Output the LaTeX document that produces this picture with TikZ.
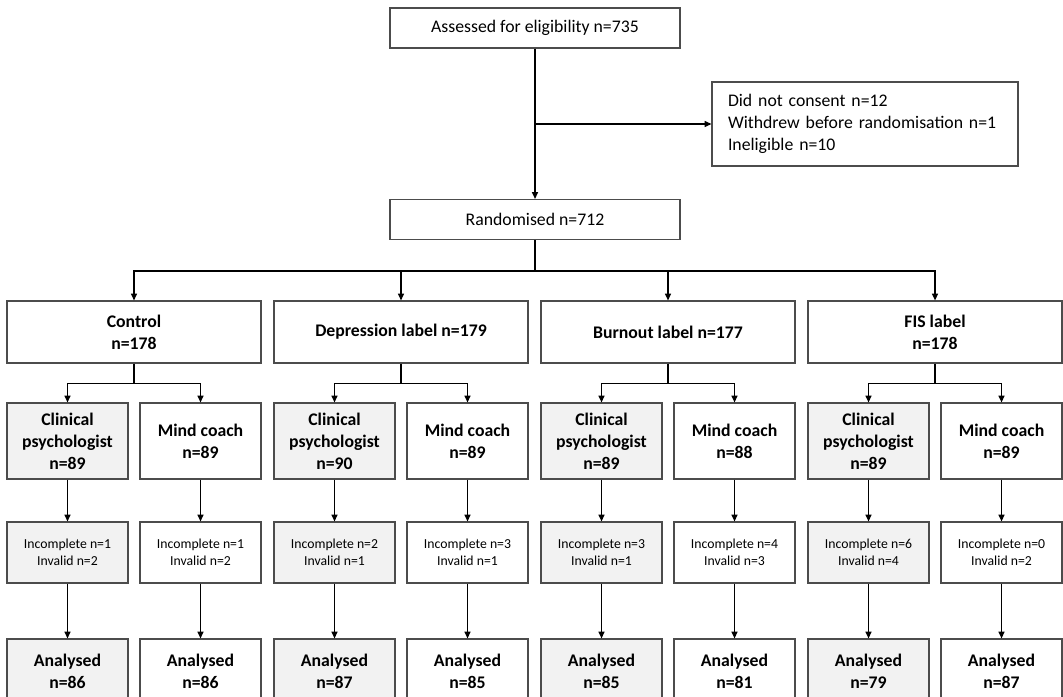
\documentclass[tikz,border=0pt]{standalone}
\usepackage{fontspec}
\setmainfont{Carlito}
\usetikzlibrary{arrows.meta}

\begin{document}
\begin{tikzpicture}
[x=0.75pt,y=-0.75pt,
box/.style={draw=black!70,line width=0.9pt,fill=white,align=center,inner sep=2pt,font=\fontsize{13.3}{16.5}\selectfont},
grp/.style={box,font=\fontsize{13.3}{16.5}\selectfont\bfseries,minimum width=190.5pt,minimum height=46.5pt},
sub/.style={box,font=\fontsize{13.3}{16.5}\selectfont\bfseries,minimum width=90.75pt,minimum height=57pt},
drop/.style={box,font=\fontsize{10.3}{12.5}\selectfont,minimum width=90.75pt,minimum height=45.75pt},
ana/.style={box,font=\fontsize{13.3}{16.5}\selectfont\bfseries,minimum width=90.75pt,minimum height=48pt},
grey/.style={fill=black!5},
arr/.style={draw=black,line width=1pt,-{Triangle[length=5pt,width=4.5pt]}},
ln/.style={draw=black,line width=1pt}]
\useasboundingbox (0,0) rectangle (1063,696);
\clip (0,0) rectangle (1063,696);

% enrolment
\node[box,minimum width=217.5pt,minimum height=30pt] (as) at (535,28) {Assessed for eligibility n=735};
\node[box,align=left,text width=205.5pt,inner xsep=12pt,minimum height=63pt] (excl) at (865,124) {Did not consent n=12\\Withdrew before randomisation n=1\\Ineligible n=10};
\node[box,minimum width=217.5pt,minimum height=30pt] (rnd) at (535,219.5) {Randomised n=712};

% groups
\node[grp] (g1) at (134,332) {Control\\n=178};
\node[grp] (g2) at (401,332) {Depression label n=179};
\node[grp] (g3) at (668,332) {Burnout label n=177};
\node[grp] (g4) at (935,332) {FIS label\\n=178};

% clinical psychologist / mind coach
\node[sub,grey] (g1c) at (67.5,441) {Clinical\\psychologist\\n=89};
\node[sub] (g1m) at (200.5,441) {Mind coach\\n=89};
\node[sub,grey] (g2c) at (334.5,441) {Clinical\\psychologist\\n=90};
\node[sub] (g2m) at (467.5,441) {Mind coach\\n=89};
\node[sub,grey] (g3c) at (601.5,441) {Clinical\\psychologist\\n=89};
\node[sub] (g3m) at (734.5,441) {Mind coach\\n=88};
\node[sub,grey] (g4c) at (868.5,441) {Clinical\\psychologist\\n=89};
\node[sub] (g4m) at (1001.5,441) {Mind coach\\n=89};

% incomplete / invalid
\node[drop,grey] (g1ci) at (67.5,552.5) {Incomplete n=1\\Invalid n=2};
\node[drop] (g1mi) at (200.5,552.5) {Incomplete n=1\\Invalid n=2};
\node[drop,grey] (g2ci) at (334.5,552.5) {Incomplete n=2\\Invalid n=1};
\node[drop] (g2mi) at (467.5,552.5) {Incomplete n=3\\Invalid n=1};
\node[drop,grey] (g3ci) at (601.5,552.5) {Incomplete n=3\\Invalid n=1};
\node[drop] (g3mi) at (734.5,552.5) {Incomplete n=4\\Invalid n=3};
\node[drop,grey] (g4ci) at (868.5,552.5) {Incomplete n=6\\Invalid n=4};
\node[drop] (g4mi) at (1001.5,552.5) {Incomplete n=0\\Invalid n=2};

% analysed
\node[ana,grey] (g1ca) at (67.5,671) {Analysed\\n=86};
\node[ana] (g1ma) at (200.5,671) {Analysed\\n=86};
\node[ana,grey] (g2ca) at (334.5,671) {Analysed\\n=87};
\node[ana] (g2ma) at (467.5,671) {Analysed\\n=85};
\node[ana,grey] (g3ca) at (601.5,671) {Analysed\\n=85};
\node[ana] (g3ma) at (734.5,671) {Analysed\\n=81};
\node[ana,grey] (g4ca) at (868.5,671) {Analysed\\n=79};
\node[ana] (g4ma) at (1001.5,671) {Analysed\\n=87};

% connectors
\draw[arr] (as) -- (rnd);
\draw[arr] (as.south |- excl.west) -- (excl.west);
\draw[ln] (rnd.south) -- ++(0,31) coordinate (rb);
\draw[arr] (rb) -| (g1.north);
\draw[arr] (rb) -| (g2.north);
\draw[arr] (rb) -| (g3.north);
\draw[arr] (rb) -| (g4.north);

\draw[ln] (g1.south) -- ++(0,20) coordinate (g1b);
\draw[ln] (g2.south) -- ++(0,20) coordinate (g2b);
\draw[ln] (g3.south) -- ++(0,20) coordinate (g3b);
\draw[ln] (g4.south) -- ++(0,20) coordinate (g4b);
\draw[arr] (g1b) -| (g1c.north);
\draw[arr] (g1b) -| (g1m.north);
\draw[arr] (g2b) -| (g2c.north);
\draw[arr] (g2b) -| (g2m.north);
\draw[arr] (g3b) -| (g3c.north);
\draw[arr] (g3b) -| (g3m.north);
\draw[arr] (g4b) -| (g4c.north);
\draw[arr] (g4b) -| (g4m.north);

\draw[arr] (g1c) -- (g1ci);
\draw[arr] (g1m) -- (g1mi);
\draw[arr] (g2c) -- (g2ci);
\draw[arr] (g2m) -- (g2mi);
\draw[arr] (g3c) -- (g3ci);
\draw[arr] (g3m) -- (g3mi);
\draw[arr] (g4c) -- (g4ci);
\draw[arr] (g4m) -- (g4mi);

\draw[arr] (g1ci) -- (g1ca);
\draw[arr] (g1mi) -- (g1ma);
\draw[arr] (g2ci) -- (g2ca);
\draw[arr] (g2mi) -- (g2ma);
\draw[arr] (g3ci) -- (g3ca);
\draw[arr] (g3mi) -- (g3ma);
\draw[arr] (g4ci) -- (g4ca);
\draw[arr] (g4mi) -- (g4ma);
\end{tikzpicture}
\end{document}
